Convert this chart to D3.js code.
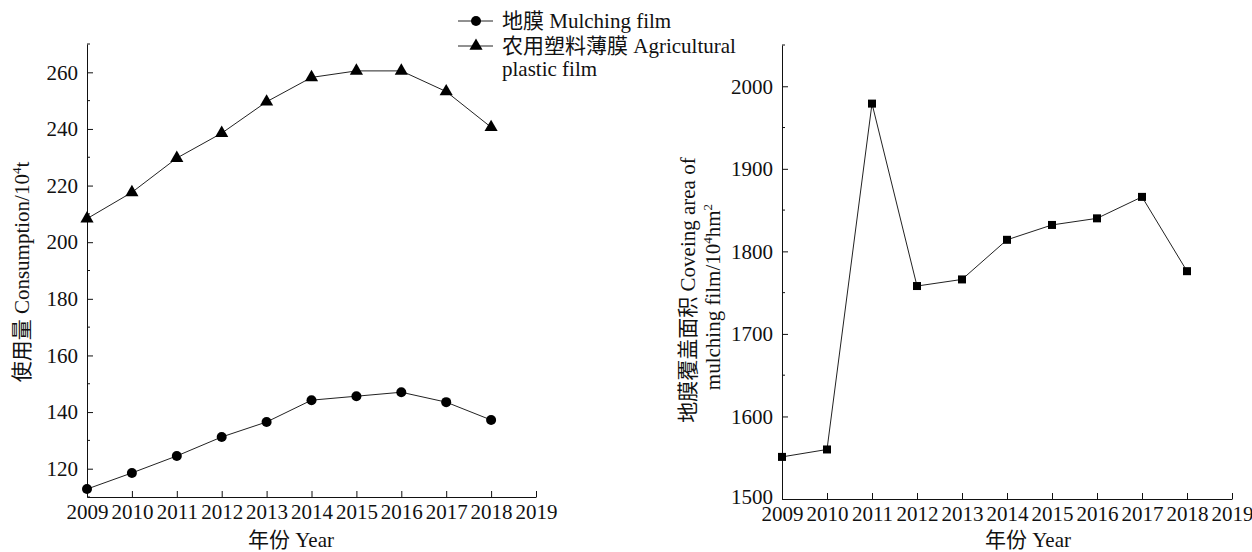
<!DOCTYPE html>
<html>
<head>
<meta charset="utf-8">
<script src="https://cdn.jsdelivr.net/npm/d3@7"></script>
<style>
  html, body { margin: 0; padding: 0; background: #fff; }
  svg { display: block; }
  text { font-family: 'Liberation Serif', 'Noto Sans CJK SC', serif; fill: #111; }
</style>
</head>
<body>
<svg id="chart" width="1252" height="552"></svg>
<script>
// ---- data ----
const years = [2009, 2010, 2011, 2012, 2013, 2014, 2015, 2016, 2017, 2018];
const mulchingFilm = [112.8, 118.5, 124.5, 131.2, 136.5, 144.2, 145.6, 147.0, 143.5, 137.2];
const agriPlasticFilm = [208.3, 217.6, 229.7, 238.5, 249.6, 258.2, 260.5, 260.5, 253.2, 240.6];
const coverArea = [1551, 1560, 1979, 1758, 1766, 1814, 1832, 1840, 1866, 1776];
const xTicks = [2009, 2010, 2011, 2012, 2013, 2014, 2015, 2016, 2017, 2018, 2019];
const leftYTicks = [120, 140, 160, 180, 200, 220, 240, 260];
const leftYMinor = [110, 130, 150, 170, 190, 210, 230, 250, 270];
const rightYTicks = [1500, 1600, 1700, 1800, 1900, 2000];
const rightYMinor = [1550, 1650, 1750, 1850, 1950, 2050];

const svg = d3.select('#chart');
const FS = 21;

function drawAxes(g, x, y, yTicks, yMinor, yFmt) {
  const [x0] = x.range();
  const [yb] = y.range();
  // x axis
  const xa = g.append('g').attr('transform', `translate(0,${yb})`)
    .call(d3.axisBottom(x).tickValues(xTicks).tickFormat(d3.format('d')).tickSizeInner(-6).tickSizeOuter(0).tickPadding(9));
  xa.select('.domain').attr('stroke', '#111');
  xa.selectAll('.tick line').attr('stroke', '#111');
  xa.selectAll('.tick text').attr('font-size', FS).attr('dy', '0.62em').style('font-family', "'Liberation Serif', serif");
  // y axis
  const ya = g.append('g').attr('transform', `translate(${x0},0)`)
    .call(d3.axisLeft(y).tickValues(yTicks).tickFormat(yFmt).tickSizeInner(-6).tickSizeOuter(0).tickPadding(9));
  ya.select('.domain').attr('stroke', '#111');
  ya.selectAll('.tick line').attr('stroke', '#111');
  ya.selectAll('.tick text').attr('font-size', FS).style('font-family', "'Liberation Serif', serif");
  // minor ticks
  g.append('g').selectAll('line').data(yMinor).join('line')
    .attr('x1', x0).attr('x2', x0 + 3)
    .attr('y1', d => y(d)).attr('y2', d => y(d))
    .attr('stroke', '#111');
  return ya;
}

// ---- left chart ----
const xL = d3.scaleLinear().domain([2009, 2019]).range([87, 536]);
const yL = d3.scaleLinear().domain([110, 270]).range([497, 44]);
const gL = svg.append('g');
drawAxes(gL, xL, yL, leftYTicks, leftYMinor, d3.format('d'));

const line = (x, y) => d3.line().x((d, i) => x(years[i])).y(d => y(d));

gL.append('path').datum(agriPlasticFilm).attr('d', line(xL, yL))
  .attr('fill', 'none').attr('stroke', '#222').attr('stroke-width', 1);
gL.append('path').datum(mulchingFilm).attr('d', line(xL, yL))
  .attr('fill', 'none').attr('stroke', '#222').attr('stroke-width', 1);

const tri = d3.symbol().type(d3.symbolTriangle).size(75);
gL.append('g').selectAll('path').data(agriPlasticFilm).join('path')
  .attr('d', tri)
  .attr('transform', (d, i) => `translate(${xL(years[i])},${yL(d)})`)
  .attr('fill', '#000');
gL.append('g').selectAll('circle').data(mulchingFilm).join('circle')
  .attr('cx', (d, i) => xL(years[i])).attr('cy', d => yL(d)).attr('r', 5)
  .attr('fill', '#000');

// axis titles left
gL.append('text').attr('x', 291).attr('y', 547).attr('text-anchor', 'middle')
  .attr('font-size', FS).text('年份 Year');
const ltitle = gL.append('text').attr('transform', 'translate(29,272) rotate(-90)')
  .attr('text-anchor', 'middle').attr('font-size', FS);
ltitle.append('tspan').text('使用量 Consumption/10');
ltitle.append('tspan').attr('font-size', 13).attr('dy', -8).text('4');
ltitle.append('tspan').attr('dy', 8).text('t');

// legend
const lg = svg.append('g');
lg.append('line').attr('x1', 458).attr('x2', 493).attr('y1', 21).attr('y2', 21).attr('stroke', '#222');
lg.append('circle').attr('cx', 476).attr('cy', 21).attr('r', 5).attr('fill', '#000');
lg.append('text').attr('x', 502).attr('y', 28).attr('font-size', FS).text('地膜 Mulching film');
lg.append('line').attr('x1', 458).attr('x2', 493).attr('y1', 46).attr('y2', 46).attr('stroke', '#222');
lg.append('path').attr('d', tri).attr('transform', 'translate(476,46)').attr('fill', '#000');
lg.append('text').attr('x', 502).attr('y', 53).attr('font-size', FS).text('农用塑料薄膜 Agricultural');
lg.append('text').attr('x', 502).attr('y', 76).attr('font-size', FS).text('plastic film');

// ---- right chart ----
const xR = d3.scaleLinear().domain([2009, 2019]).range([782, 1232]);
const yR = d3.scaleLinear().domain([1500, 2050]).range([499, 45]);
const gR = svg.append('g');
const yaR = drawAxes(gR, xR, yR, rightYTicks, rightYMinor, d3.format('d'));
yaR.selectAll('.tick text').filter(d => d === 1500).attr('dy', '0.2em');

gR.append('path').datum(coverArea).attr('d', line(xR, yR))
  .attr('fill', 'none').attr('stroke', '#222').attr('stroke-width', 1);
gR.append('g').selectAll('rect').data(coverArea).join('rect')
  .attr('x', (d, i) => xR(years[i]) - 4).attr('y', d => yR(d) - 4)
  .attr('width', 8).attr('height', 8).attr('fill', '#000');

gR.append('text').attr('x', 1028).attr('y', 547).attr('text-anchor', 'middle')
  .attr('font-size', FS).text('年份 Year');
const rt1 = gR.append('text').attr('transform', 'translate(695,290) rotate(-90)')
  .attr('text-anchor', 'middle').attr('font-size', FS);
rt1.text('地膜覆盖面积 Coveing area of');
const rt2 = gR.append('text').attr('transform', 'translate(720,297) rotate(-90)')
  .attr('text-anchor', 'middle').attr('font-size', FS);
rt2.append('tspan').text('mulching film/10');
rt2.append('tspan').attr('font-size', 13).attr('dy', -8).text('4');
rt2.append('tspan').attr('dy', 8).text('hm');
rt2.append('tspan').attr('font-size', 13).attr('dy', -8).text('2');
</script>
</body>
</html>
